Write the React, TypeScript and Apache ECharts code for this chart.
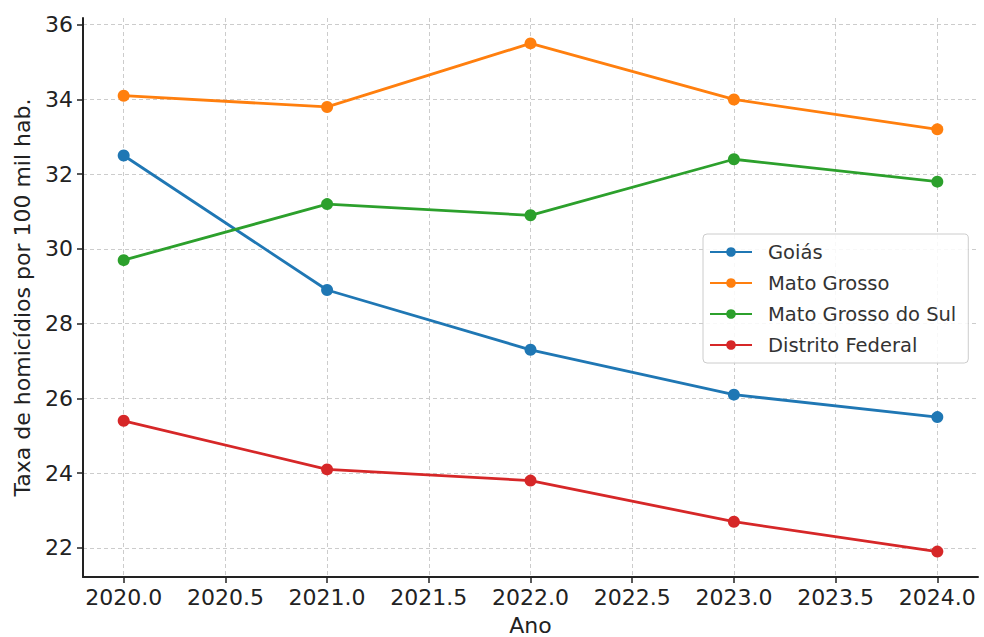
import React, { useEffect, useRef } from "react";
import * as echarts from "echarts";

const years = [2020, 2021, 2022, 2023, 2024];
const goias = [32.5, 28.9, 27.3, 26.1, 25.5];
const matoGrosso = [34.1, 33.8, 35.5, 34.0, 33.2];
const matoGrossoSul = [29.7, 31.2, 30.9, 32.4, 31.8];
const distritoFederal = [25.4, 24.1, 23.8, 22.7, 21.9];
const xTicks = [2020.0, 2020.5, 2021.0, 2021.5, 2022.0, 2022.5, 2023.0, 2023.5, 2024.0];
const yTicks = [22, 24, 26, 28, 30, 32, 34, 36];

const seriesDefs = [
  { name: "Goiás", data: goias, color: "#1f77b4" },
  { name: "Mato Grosso", data: matoGrosso, color: "#ff7f0e" },
  { name: "Mato Grosso do Sul", data: matoGrossoSul, color: "#2ca02c" },
  { name: "Distrito Federal", data: distritoFederal, color: "#d62728" },
];

const FONT = "DejaVu Sans";

export default function App() {
  const ref = useRef<HTMLDivElement>(null);
  useEffect(() => {
    const chart = echarts.init(ref.current!, undefined, { renderer: "svg" });
    chart.setOption({
      animation: false,
      backgroundColor: "#ffffff",
      textStyle: { fontFamily: FONT },
      grid: { left: 83, top: 18, right: 6, bottom: 60, containLabel: false, outerBoundsMode: "none" },
      legend: {
        orient: "vertical",
        left: 703,
        top: 234,
        itemWidth: 42,
        itemHeight: 12,
        itemGap: 11,
        padding: [8, 12, 8, 6],
        backgroundColor: "rgba(255,255,255,0.85)",
        borderColor: "#cccccc",
        borderWidth: 1,
        borderRadius: 4,
        textStyle: { fontFamily: FONT, fontSize: 19.5, color: "#333333", padding: [0, 0, 0, 11] },
        data: seriesDefs.map((s) => s.name),
      },
      xAxis: {
        type: "value",
        min: 2019.8,
        max: 2024.2,
        name: "Ano",
        nameLocation: "middle",
        nameGap: 37,
        nameTextStyle: { fontFamily: FONT, fontSize: 22, color: "#222222" },
        axisLine: { show: true, onZero: false, lineStyle: { color: "#222222", width: 2 } },
        axisTick: { show: true, length: 6, inside: false, customValues: xTicks, lineStyle: { color: "#222222", width: 1.5 } },
        axisLabel: {
          customValues: xTicks,
          margin: 9,
          fontFamily: FONT,
          fontSize: 22,
          color: "#222222",
          formatter: (v: number) => v.toFixed(1),
        },
        splitLine: { show: true, lineStyle: { color: "#cccccc", type: [4, 3], width: 1 } },
      },
      yAxis: {
        type: "value",
        min: 21.22,
        max: 36.18,
        name: "Taxa de homicídios por 100 mil hab.",
        nameLocation: "middle",
        nameGap: 50,
        nameTextStyle: { fontFamily: FONT, fontSize: 22, color: "#222222" },
        axisLine: { show: true, onZero: false, lineStyle: { color: "#222222", width: 2 } },
        axisTick: { show: true, length: 6, inside: false, customValues: yTicks, lineStyle: { color: "#222222", width: 1.5 } },
        axisLabel: {
          customValues: yTicks,
          margin: 10,
          fontFamily: FONT,
          fontSize: 22,
          color: "#222222",
          formatter: (v: number) => String(Math.round(v)),
        },
        splitLine: { show: true, lineStyle: { color: "#cccccc", type: [4, 3], width: 1 } },
      },
      series: seriesDefs.map((s) => ({
        name: s.name,
        type: "line",
        data: years.map((y, i) => [y, s.data[i]]),
        symbol: "circle",
        symbolSize: 12,
        lineStyle: { color: s.color, width: 2.8 },
        itemStyle: { color: s.color },
        emphasis: { disabled: true },
      })),
    });
    return () => chart.dispose();
  }, []);
  return <div ref={ref} style={{ width: 984, height: 637, position: "absolute", left: 0, top: 0 }} />;
}
